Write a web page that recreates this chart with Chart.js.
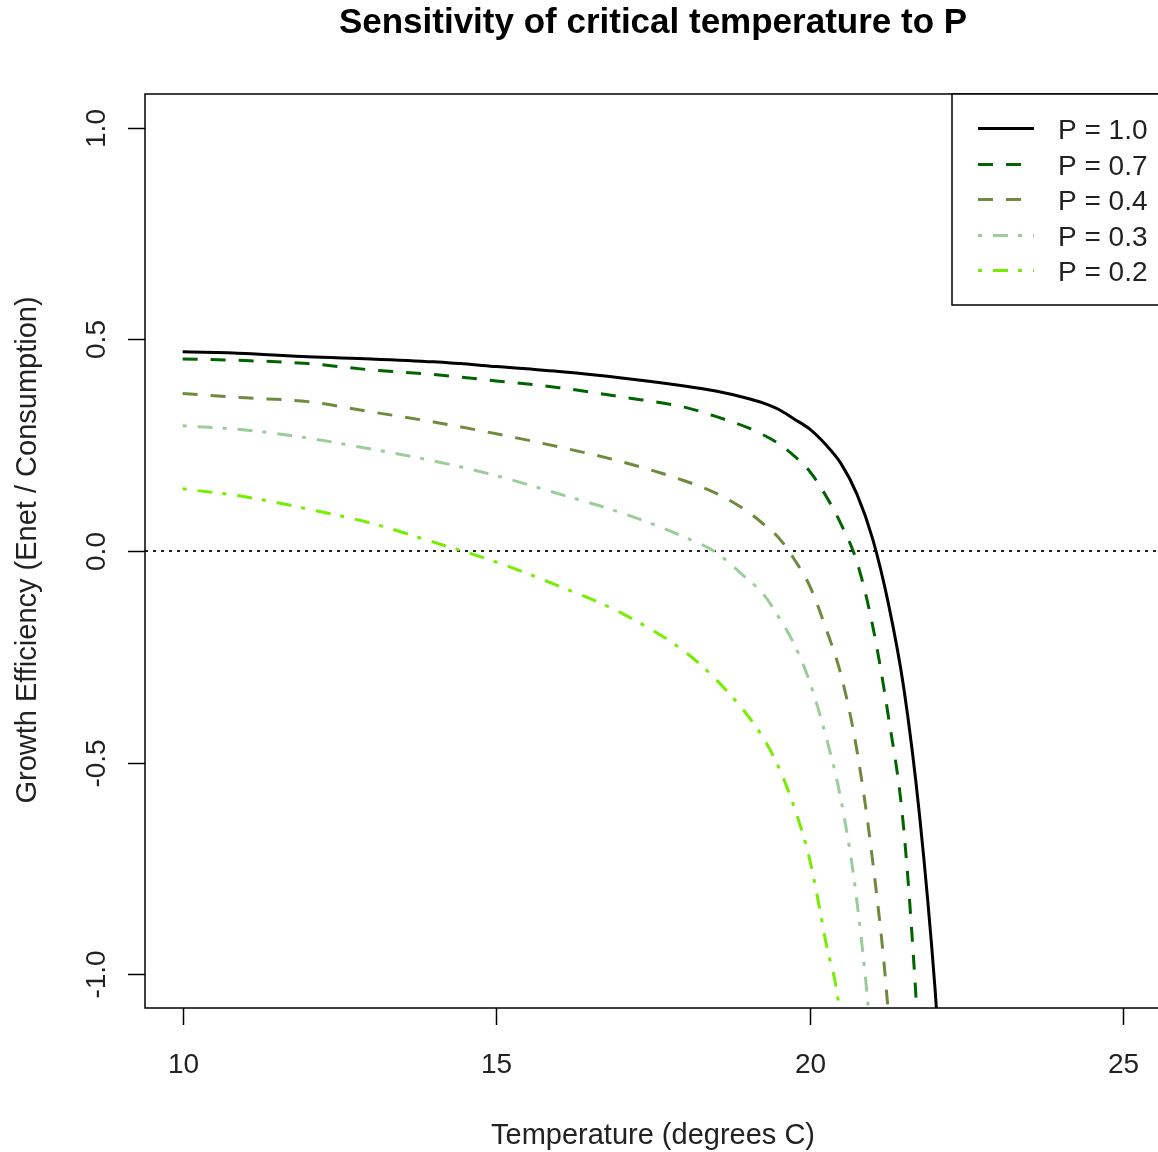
<!DOCTYPE html>
<html>
<head>
<meta charset="utf-8">
<script src="https://cdn.jsdelivr.net/npm/chart.js@4.4.1/dist/chart.umd.min.js"></script>
<style>
  html, body { margin: 0; padding: 0; background: #fff; overflow: hidden; }
  #wrap { width: 1164px; height: 1152px; }
</style>
</head>
<body>
<div id="wrap"><canvas id="chart" width="1164" height="1152"></canvas></div>
<script>
// ---------------- data ----------------//

const temps = [10, 11, 12, 13, 14, 15, 16, 17, 18, 18.5, 19, 19.25, 19.5, 19.75, 20, 20.25, 20.5, 20.75, 21, 21.25, 21.5, 21.75, 22, 22.25]

const p10 = [0.471, 0.467, 0.459, 0.454, 0.447, 0.436, 0.424, 0.409, 0.390, 0.378, 0.361, 0.350, 0.335, 0.312, 0.288, 0.252, 0.206, 0.135, 0.030, -0.122, -0.325, -0.625, -1.04, -1.6]
const p07 = [0.454, 0.450, 0.443, 0.428, 0.417, 0.402, 0.386, 0.364, 0.340, 0.318, 0.292, 0.275, 0.254, 0.225, 0.188, 0.132, 0.063, -0.025, -0.175, -0.388, -0.66, -1.2, -2.0, null]
const p04 = [0.372, 0.362, 0.353, 0.329, 0.305, 0.277, 0.246, 0.211, 0.166, 0.137, 0.094, 0.065, 0.032, -0.019, -0.083, -0.18, -0.294, -0.47, -0.73, -1.09, -1.7, null, null, null]
const p03 = [0.296, 0.286, 0.267, 0.241, 0.213, 0.178, 0.135, 0.090, 0.033, -0.003, -0.066, -0.100, -0.155, -0.220, -0.31, -0.434, -0.59, -0.826, -1.2, -1.8, null, null, null, null]
const p02 = [0.147, 0.128, 0.099, 0.066, 0.021, -0.026, -0.083, -0.147, -0.237, -0.303, -0.387, -0.44, -0.51, -0.605, -0.73, -0.92, -1.124, -1.7, null, null, null, null, null, null]

const seriesLabels = ['P = 1.0', 'P = 0.7', 'P = 0.4', 'P = 0.3', 'P = 0.2']
const seriesColors = ['#000000', '#006400', '#6E8B3D', '#9BCD9B', '#76EE00']

const xTicks = [10, 15, 20, 25]
const yTicks = [-1.0, -0.5, 0.0, 0.5, 1.0]
const yTickLabels = ['-1.0', '-0.5', '0.0', '0.5', '1.0']

const xRange = [9.4, 25.6]
const yRange = [-1.08, 1.08]

// ---------------- helpers ----------------//

const FONT = '"Liberation Sans", Arial, Helvetica, sans-serif'
const DASHED = [15, 13]
const DOTDASH = [4, 11, 15, 10]
const dashes = [[], DASHED, DASHED, DOTDASH, DOTDASH]

function toPoints(values) {
  const pts = []
  for (let i = 0; i < temps.length; i++) {
    if (values[i] !== null) pts.push({ x: temps[i], y: values[i] })
  }
  return pts
}

const allSeries = [p10, p07, p04, p03, p02]

const datasets = allSeries.map((vals, i) => ({
  label: seriesLabels[i],
  data: toPoints(vals),
  borderColor: seriesColors[i],
  borderWidth: 3,
  borderDash: dashes[i],
  borderCapStyle: 'butt',
  pointRadius: 0,
  fill: false,
  cubicInterpolationMode: 'monotone',
}))

// dotted reference line at zero
datasets.push({
  label: 'zero',
  data: [{ x: xRange[0], y: 0 }, { x: xRange[1], y: 0 }],
  borderColor: '#222',
  borderWidth: 2,
  borderDash: [3, 5],
  pointRadius: 0,
  fill: false,
})

// R-style frame, axes, titles and legend
const rDecor = {
  id: 'rDecor',
  afterDatasetsDraw(chart) {
    const ctx = chart.ctx
    const { left, right, top, bottom } = chart.chartArea
    const xs = chart.scales.x
    const ys = chart.scales.y

    ctx.save()
    ctx.strokeStyle = '#000'
    ctx.lineWidth = 1.5
    ctx.setLineDash([])
    ctx.strokeRect(left, top, right - left, bottom - top)

    ctx.fillStyle = '#222'
    ctx.font = '28px ' + FONT

    // x axis
    ctx.textAlign = 'center'
    ctx.textBaseline = 'middle'
    xTicks.forEach((t) => {
      const px = Math.round(xs.getPixelForValue(t)) + 0.5
      ctx.beginPath()
      ctx.moveTo(px, bottom)
      ctx.lineTo(px, bottom + 17)
      ctx.stroke()
      ctx.fillText(String(t), px, 1065)
    })

    // y axis
    yTicks.forEach((t, i) => {
      const py = Math.round(ys.getPixelForValue(t)) + 0.5
      ctx.beginPath()
      ctx.moveTo(left, py)
      ctx.lineTo(left - 17, py)
      ctx.stroke()
      ctx.save()
      ctx.translate(97, py)
      ctx.rotate(-Math.PI / 2)
      ctx.fillText(yTickLabels[i], 0, 0)
      ctx.restore()
    })

    // axis titles
    const midX = (left + right) / 2
    ctx.font = '29px ' + FONT
    ctx.fillText('Temperature (degrees C)', midX, 1136)
    ctx.save()
    ctx.translate(28, (top + bottom) / 2 - 1)
    ctx.rotate(-Math.PI / 2)
    ctx.fillText('Growth Efficiency (Enet / Consumption)', 0, 0)
    ctx.restore()

    // main title
    ctx.fillStyle = '#000'
    ctx.font = 'bold 35px ' + FONT
    ctx.fillText('Sensitivity of critical temperature to P', midX, 23)

    // legend box
    ctx.fillStyle = '#fff'
    ctx.fillRect(952, top, right - 952, 211)
    ctx.strokeRect(952, top, right - 952, 211)
    ctx.font = '28px ' + FONT
    ctx.textAlign = 'left'
    chart.data.datasets.slice(0, seriesLabels.length).forEach((ds, i) => {
      const y = Math.round(128 + i * 35.5) + 0.5
      ctx.strokeStyle = ds.borderColor
      ctx.lineWidth = ds.borderWidth
      ctx.setLineDash(ds.borderDash)
      ctx.beginPath()
      ctx.moveTo(978, y)
      ctx.lineTo(1034, y)
      ctx.stroke()
      ctx.fillStyle = '#222'
      ctx.fillText(ds.label, 1058, y + 3)
    })
    ctx.restore()
  },
}

const myChart = new Chart(document.getElementById('chart'), {
  type: 'line',
  data: { datasets: datasets },
  options: {
    responsive: false,
    animation: false,
    devicePixelRatio: 1,
    layout: { padding: { left: 145, top: 94, right: 3, bottom: 144 } },
    scales: {
      x: { type: 'linear', min: xRange[0], max: xRange[1], display: false },
      y: { type: 'linear', min: yRange[0], max: yRange[1], display: false },
    },
    plugins: {
      legend: { display: false },
      tooltip: { enabled: false },
    },
  },
  plugins: [rDecor],
})
</script>
</body>
</html>
